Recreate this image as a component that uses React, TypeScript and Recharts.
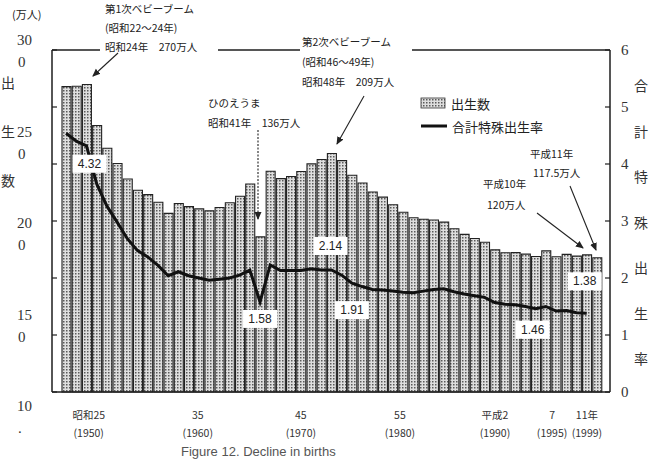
import React from 'react';
import { ComposedChart, Bar, Line, XAxis, YAxis, ReferenceLine, LabelList } from 'recharts';

const years = [
  1947, 1948, 1949, 1950, 1951, 1952, 1953, 1954, 1955, 1956,
  1957, 1958, 1959, 1960, 1961, 1962, 1963, 1964, 1965, 1966,
  1967, 1968, 1969, 1970, 1971, 1972, 1973, 1974, 1975, 1976,
  1977, 1978, 1979, 1980, 1981, 1982, 1983, 1984, 1985, 1986,
  1987, 1988, 1989, 1990, 1991, 1992, 1993, 1994, 1995, 1996,
  1997, 1998, 1999,
];

// 出生数 (万人)
const births = [
  267.9, 268.2, 269.7, 233.8, 213.8, 200.5, 186.8, 177.0, 173.1, 166.5,
  156.7, 165.3, 162.6, 160.6, 158.9, 161.9, 166.0, 171.7, 182.4, 136.1,
  193.6, 187.2, 189.0, 193.4, 200.1, 203.9, 209.2, 203.0, 190.1, 183.3,
  175.5, 170.9, 164.3, 157.7, 152.9, 151.5, 150.9, 149.0, 143.2, 138.3,
  134.7, 131.4, 124.7, 122.2, 122.3, 120.9, 118.8, 123.8, 118.7, 120.7,
  119.2, 120.3, 117.8,
];

// 合計特殊出生率
const tfr: (number | null)[] = [
  4.54, 4.40, 4.32, 3.65, 3.26, 2.98, 2.69, 2.48, 2.37, 2.22,
  2.04, 2.11, 2.04, 2.00, 1.96, 1.98, 2.00, 2.05, 2.14, 1.58,
  2.23, 2.13, 2.13, 2.13, 2.16, 2.14, 2.14, 2.05, 1.91, 1.85,
  1.80, 1.79, 1.77, 1.75, 1.74, 1.77, 1.80, 1.81, 1.76, 1.72,
  1.69, 1.66, 1.57, 1.54, 1.53, 1.50, 1.46, 1.50, 1.42, 1.43,
  1.39, 1.38, null,
];

const leftTicks = [0, 50, 100, 150, 200, 250, 300];
const leftLabeled = [300, 250, 200, 150, 100];
const rightTicks = [0, 1, 2, 3, 4, 5, 6];
const xTicks = [1950, 1960, 1970, 1980, 1990, 1995, 1999];
const xTickTop = ['昭和25', '35', '45', '55', '平成2', '7', '11年'];
const xTickBottom = ['(1950)', '(1960)', '(1970)', '(1980)', '(1990)', '(1995)', '(1999)'];
const labeledYears = [1949, 1966, 1973, 1975, 1993, 1998];

const data = years.map((y, i) => ({ year: y, births: births[i], tfr: tfr[i] }));

const JP = '"Noto Sans CJK JP", "Noto Sans", sans-serif';
const NUM = '"Liberation Serif", "DejaVu Serif", serif';
const INK = '#1e1e1e';

const LeftTick = (props: any) => {
  const { x, y, payload } = props;
  const v = payload.value as number;
  const show = leftLabeled.indexOf(v) >= 0;
  const ly = y - 10 + ((300 - v) / 50) * 34.5;
  const s = String(v);
  return (
    <g>
      <line x1={x} x2={x + 5} y1={y} y2={y} stroke={INK} strokeWidth={1.2} />
      {show && (
        <text x={x - 35} y={ly} fontFamily={NUM} fontSize={15} fill="#333" dominantBaseline="central">
          {s.slice(0, 2)}
        </text>
      )}
      {show && (
        <text x={x - 34} y={ly + 22} fontFamily={NUM} fontSize={15} fill="#333" dominantBaseline="central">
          {v === 100 ? '.' : s.slice(2)}
        </text>
      )}
    </g>
  );
};

const RightTick = (props: any) => {
  const { x, y, payload } = props;
  return (
    <g>
      <line x1={x - 5} x2={x} y1={y} y2={y} stroke={INK} strokeWidth={1.2} />
      <text x={x + 11} y={y} fontFamily={NUM} fontSize={15} fill="#333" dominantBaseline="central">
        {payload.value}
      </text>
    </g>
  );
};

const xShift: Record<number, number> = { 1950: -8, 1960: -1, 1970: 0, 1980: -3, 1990: -10, 1995: -4, 1999: -10 };

const XTick = (props: any) => {
  const { x, y, payload } = props;
  const i = xTicks.indexOf(payload.value);
  if (i < 0) return null;
  const cx = x + (xShift[payload.value] || 0);
  return (
    <g>
      <text x={cx} y={y + 22} textAnchor="middle" fontFamily={JP} fontSize={10.5} fill="#333" dominantBaseline="central">
        {xTickTop[i]}
      </text>
      <text x={cx} y={y + 40} textAnchor="middle" fontFamily={JP} fontSize={10.5} fill="#333" dominantBaseline="central">
        {xTickBottom[i]}
      </text>
    </g>
  );
};

const labelOffsets: Record<number, [number, number]> = {
  1949: [3, 18],
  1966: [0, 17],
  1973: [-1, -24],
  1975: [0, 27],
  1993: [-3, 21],
  1998: [-2, -32],
};

const TfrLabel = (props: any) => {
  const { x, y, value, index } = props;
  const yr = typeof index === 'number' ? years[index] : props?.payload?.year;
  if (labeledYears.indexOf(yr) < 0 || value == null) return null;
  const off = labelOffsets[yr] || [0, -20];
  const cx = x + off[0];
  const cy = y + off[1];
  return (
    <g>
      <rect x={cx - 17} y={cy - 9} width={34} height={18} fill="#fff" />
      <text x={cx} y={cy} textAnchor="middle" dominantBaseline="central" fontFamily='"Liberation Sans", Arial, sans-serif' fontSize={12} fill="#222">
        {Number(value).toFixed(2)}
      </text>
    </g>
  );
};

const Arrow = ({ x1, y1, x2, y2, dashed }: any) => (
  <line x1={x1} y1={y1} x2={x2} y2={y2} stroke="#222" strokeWidth={1.1} strokeDasharray={dashed ? '2 1.5' : undefined} markerEnd="url(#ah)" />
);

const T = ({ x, y, children, size = 10.5 }: any) => (
  <text x={x} y={y} fontFamily={JP} fontSize={size} fill="#222" dominantBaseline="central">
    {children}
  </text>
);

export default function App() {
  return (
    <div style={{ position: 'absolute', left: 0, top: 0, width: 654, height: 462, overflow: 'hidden', background: '#fff' }}>
      <ComposedChart width={654} height={462} data={data} margin={{ top: 50, right: 0, bottom: 0, left: 0 }}>
        <defs>
          <pattern id="dots" width="3" height="3" patternUnits="userSpaceOnUse">
            <rect width="3" height="3" fill="#dedede" />
            <rect x="0" y="0" width="1.5" height="1.5" fill="#5a5a5a" />
          </pattern>
        </defs>
        <XAxis
          dataKey="year"
          ticks={xTicks}
          interval={0}
          height={70}
          padding={{ left: 9, right: 8 }}
          tickLine={false}
          tickSize={0}
          tickMargin={0}
          axisLine={{ stroke: INK, strokeWidth: 1.5 }}
          tick={<XTick />}
        />
        <YAxis
          yAxisId="left"
          orientation="left"
          width={52}
          domain={[0, 300]}
          ticks={leftTicks}
          interval={0}
          tickLine={false}
          tickSize={0}
          tickMargin={0}
          axisLine={{ stroke: INK, strokeWidth: 1.5 }}
          tick={<LeftTick />}
        />
        <YAxis
          yAxisId="right"
          orientation="right"
          width={44}
          domain={[0, 6]}
          ticks={rightTicks}
          interval={0}
          tickLine={false}
          tickSize={0}
          tickMargin={0}
          axisLine={{ stroke: INK, strokeWidth: 1.5 }}
          tick={<RightTick />}
        />
        <ReferenceLine yAxisId="left" y={300} stroke={INK} strokeWidth={1.5} />
        <Bar
          yAxisId="left"
          dataKey="births"
          fill="url(#dots)"
          stroke="#222"
          strokeWidth={1.1}
          barSize={9}
          isAnimationActive={false}
        />
        <Line
          yAxisId="right"
          dataKey="tfr"
          type="linear"
          stroke="#111"
          strokeWidth={3}
          dot={false}
          activeDot={false}
          isAnimationActive={false}
        >
          <LabelList dataKey="tfr" content={<TfrLabel />} />
        </Line>
      </ComposedChart>

      <svg width={654} height={462} style={{ position: 'absolute', left: 0, top: 0, pointerEvents: 'none' }}>
        <defs>
          <marker id="ah" markerWidth="8" markerHeight="8" refX="7" refY="4" orient="auto" markerUnits="userSpaceOnUse">
            <path d="M0,0.5 L8,4 L0,7.5 z" fill="#222" />
          </marker>
          <pattern id="dots2" width="3" height="3" patternUnits="userSpaceOnUse">
            <rect width="3" height="3" fill="#dedede" />
            <rect x="0" y="0" width="1.5" height="1.5" fill="#5a5a5a" />
          </pattern>
        </defs>

        {/* unit + axis titles */}
        <T x={12} y={14} size={11}>(万人)</T>
        {['出', '生', '数'].map((c, i) => (
          <text key={c} x={8} y={82 + i * 49} textAnchor="middle" fontFamily={JP} fontSize={14} fill="#333" dominantBaseline="central">{c}</text>
        ))}
        {['合', '計', '特', '殊', '出', '生', '率'].map((c, i) => (
          <text key={c + i} x={641} y={85 + i * 45.5} textAnchor="middle" fontFamily={JP} fontSize={14} fill="#333" dominantBaseline="central">{c}</text>
        ))}

        {/* 第1次ベビーブーム */}
        <rect x={100} y={0} width={118} height={58} fill="#fff" />
        <T x={105} y={8}>第1次ベビーブーム</T>
        <T x={105} y={27}>(昭和22〜24年)</T>
        <T x={105} y={46}>昭和24年　270万人</T>
        <Arrow x1={118} y1={53} x2={93} y2={76} />

        {/* 第2次ベビーブーム */}
        <rect x={300} y={30} width={112} height={62} fill="#fff" />
        <T x={302} y={41}>第2次ベビーブーム</T>
        <T x={302} y={61}>(昭和46〜49年)</T>
        <T x={302} y={81}>昭和48年　209万人</T>
        <Arrow x1={364} y1={96} x2={337} y2={144} />

        {/* ひのえうま */}
        <T x={208} y={102}>ひのえうま</T>
        <T x={208} y={122}>昭和41年　136万人</T>
        <Arrow x1={258} y1={130} x2={258} y2={219} dashed />

        {/* legend */}
        <rect x={421} y={98} width={24} height={10} fill="url(#dots2)" stroke="#333" strokeWidth={0.8} />
        <T x={451} y={103} size={13}>出生数</T>
        <line x1={421} x2={447} y1={126} y2={126} stroke="#111" strokeWidth={3} />
        <T x={452} y={126} size={13}>合計特殊出生率</T>

        {/* 平成11年 */}
        <T x={530} y={153}>平成11年</T>
        <T x={533} y={172}>117.5万人</T>
        <Arrow x1={570} y1={186} x2={596} y2={250} />

        {/* 平成10年 */}
        <T x={483} y={183}>平成10年</T>
        <T x={487} y={204}>120万人</T>
        <Arrow x1={537} y1={213} x2={583} y2={248} />

        {/* caption */}
        <text x={181} y={456} fontFamily='"Liberation Sans", Arial, sans-serif' fontSize={13} fill="#555">
          Figure 12. Decline in births
        </text>
      </svg>
    </div>
  );
}
